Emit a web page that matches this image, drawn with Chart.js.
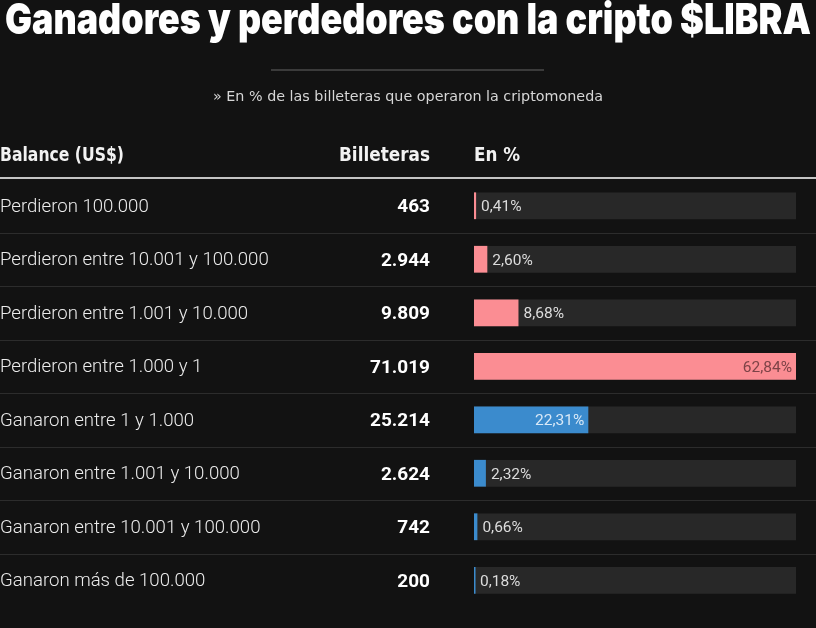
<!DOCTYPE html>
<html>
<head>
<meta charset="utf-8">
<script src="https://cdn.jsdelivr.net/npm/chart.js@4"></script>
<style>
  html, body { margin: 0; padding: 0; background: #121212; }
  #wrap { width: 816px; height: 628px; }
</style>
</head>
<body>
<div id="wrap"><canvas id="libra" width="816" height="628"></canvas></div>
<script>
const categories = [
    "Perdieron 100.000",
    "Perdieron entre 10.001 y 100.000",
    "Perdieron entre 1.001 y 10.000",
    "Perdieron entre 1.000 y 1",
    "Ganaron entre 1 y 1.000",
    "Ganaron entre 1.001 y 10.000",
    "Ganaron entre 10.001 y 100.000",
    "Ganaron más de 100.000"
]
const wallets = [463, 2944, 9809, 71019, 25214, 2624, 742, 200]
const percents = [0.41, 2.60, 8.68, 62.84, 22.31, 2.32, 0.66, 0.18]
const lost = [true, true, true, true, false, false, false, false]

const PINK = "#fb8d93"
const BLUE = "#3b8bcd"
const TRACK = "#282828"
const BG = "#121212"

const fmtInt = n => n.toLocaleString("de-DE")
const fmtPct = n => n.toFixed(2).replace(".", ",") + "%"

// draw text squeezed/stretched to a given width
const drawFit = (ctx, text, x, y, width, align) => {
    const w = ctx.measureText(text).width
    const sx = width / w
    ctx.save()
    ctx.textAlign = "left"
    let left = x
    if (align === "center") left = x - width / 2
    if (align === "right") left = x - width
    ctx.translate(left, y)
    ctx.scale(sx, 1)
    ctx.fillText(text, 0, 0)
    ctx.restore()
}

const tablePlugin = {
    id: "tablePlugin",
    beforeDraw: (chart) => {
        const ctx = chart.ctx
        ctx.save()
        ctx.fillStyle = BG
        ctx.fillRect(0, 0, chart.width, chart.height)
        ctx.restore()
    },
    afterDraw: (chart) => {
        const ctx = chart.ctx
        const yScale = chart.scales.y
        const xScale = chart.scales.x
        const area = chart.chartArea
        ctx.save()

        // title
        ctx.fillStyle = "#ffffff"
        ctx.textBaseline = "alphabetic"
        ctx.font = "900 43px Inter, Roboto, sans-serif"
        drawFit(ctx, "Ganadores y perdedores con la cripto $LIBRA", 5, 34, 806, "left")

        // rule under title
        ctx.strokeStyle = "#4a4a4a"
        ctx.lineWidth = 1.5
        ctx.beginPath()
        ctx.moveTo(271, 70)
        ctx.lineTo(544, 70)
        ctx.stroke()

        // subtitle
        ctx.fillStyle = "#d6d6d6"
        ctx.font = "14px 'Liberation Sans Narrow', 'DejaVu Sans Condensed', Roboto, sans-serif"
        drawFit(ctx, "» En % de las billeteras que operaron la criptomoneda", 408, 101, 390, "center")

        // header
        ctx.fillStyle = "#f2f2f2"
        ctx.font = "bold 20px 'Liberation Sans Narrow', 'DejaVu Sans Condensed', Roboto, sans-serif"
        drawFit(ctx, "Balance (US$)", 0, 161, 124, "left")
        drawFit(ctx, "Billeteras", 430, 161, 91, "right")
        drawFit(ctx, "En %", 474, 161, 46, "left")

        ctx.strokeStyle = "#c4c4c4"
        ctx.lineWidth = 2
        ctx.beginPath()
        ctx.moveTo(0, 178)
        ctx.lineTo(chart.width, 178)
        ctx.stroke()

        // row dividers
        ctx.strokeStyle = "#2c2c2c"
        ctx.lineWidth = 1
        for (let i = 0; i < categories.length - 1; i++) {
            const yb = (yScale.getPixelForValue(i) + yScale.getPixelForValue(i + 1)) / 2
            ctx.beginPath()
            ctx.moveTo(0, Math.round(yb) + 0.5)
            ctx.lineTo(chart.width, Math.round(yb) + 0.5)
            ctx.stroke()
        }

        ctx.textBaseline = "middle"
        categories.forEach((cat, i) => {
            const yc = yScale.getPixelForValue(i)

            ctx.fillStyle = "#ececec"
            ctx.font = "300 18.6px Roboto, sans-serif"
            ctx.textAlign = "left"
            ctx.fillText(cat, 0, yc + 1.5)

            ctx.fillStyle = "#ffffff"
            ctx.font = "bold 19px Roboto, sans-serif"
            ctx.textAlign = "right"
            ctx.fillText(fmtInt(wallets[i]), 430, yc + 1.5)

            const xEnd = xScale.getPixelForValue(percents[i])
            ctx.font = "15.5px Roboto, sans-serif"
            if (percents[i] > 15) {
                ctx.textAlign = "right"
                ctx.fillStyle = lost[i] ? "#7d4347" : "#d9e9f7"
                ctx.fillText(fmtPct(percents[i]), xEnd - 4, yc + 1.5)
            } else {
                ctx.textAlign = "left"
                ctx.fillStyle = "#dcdcdc"
                ctx.fillText(fmtPct(percents[i]), xEnd + 5, yc + 1.5)
            }
        })
        ctx.restore()
    }
}

const maxPct = Math.max(...percents)

const ctx = document.getElementById("libra").getContext("2d")
const libraChart = new Chart(ctx, {
    type: "bar",
    data: {
        labels: categories,
        datasets: [
            {
                data: percents,
                backgroundColor: lost.map(l => l ? PINK : BLUE),
                order: 0,
                grouped: false,
                barPercentage: 0.5,
                categoryPercentage: 1,
                minBarLength: 1.5
            },
            {
                data: percents.map(() => maxPct),
                backgroundColor: TRACK,
                order: 1,
                grouped: false,
                barPercentage: 0.5,
                categoryPercentage: 1
            }
        ]
    },
    options: {
        indexAxis: "y",
        responsive: false,
        animation: false,
        layout: {
            padding: { left: 474, right: 20, top: 179, bottom: 21 }
        },
        scales: {
            x: { display: false, min: 0, max: maxPct },
            y: { display: false, offset: true }
        },
        plugins: {
            legend: { display: false },
            tooltip: { enabled: false },
            title: { display: false }
        }
    },
    plugins: [tablePlugin]
})
</script>
</body>
</html>
